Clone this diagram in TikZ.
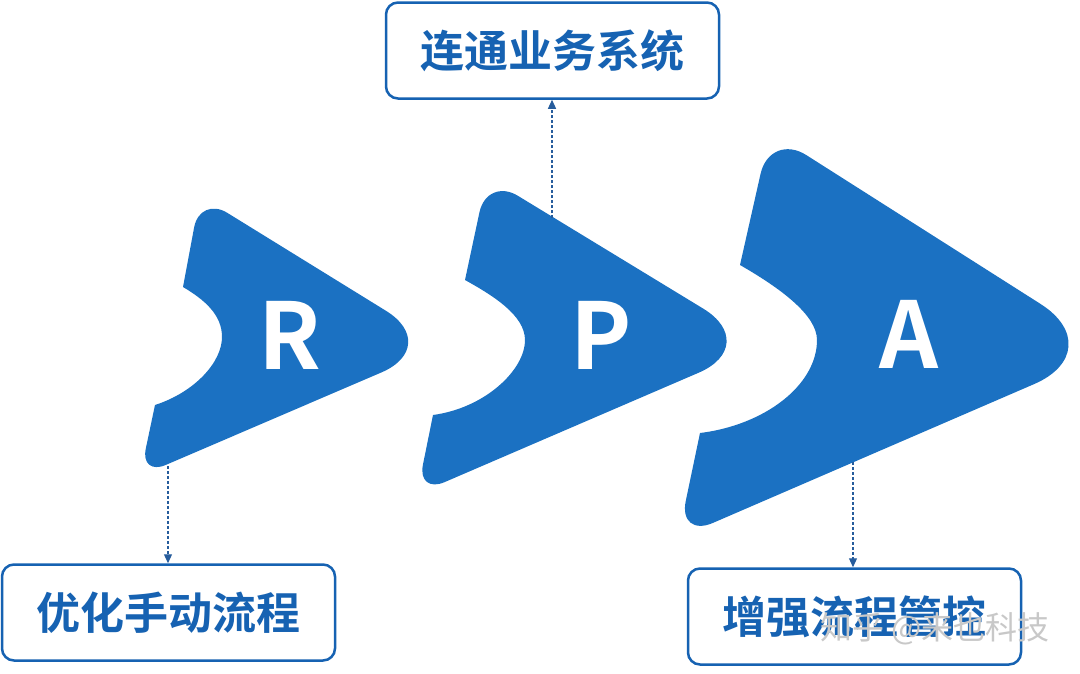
\documentclass[tikz,border=0pt]{standalone}
\usepackage{fontspec}
\usetikzlibrary{calc,arrows.meta}
\newfontfamily\cjk{Noto Sans CJK SC}[BoldFont={Noto Sans CJK SC Bold}]
\definecolor{shapeblue}{RGB}{27,113,194}
\definecolor{textblue}{RGB}{22,98,178}
\definecolor{arrowblue}{RGB}{38,92,156}
\definecolor{wmgray}{RGB}{200,200,200}
% rounded corner: from edge toward #1, around vertex #2, to edge toward #3, cut #4
\newcommand\rc[4]{($(#2)!#4!(#1)$) .. controls ($(#2)!0.45*#4!(#1)$) and ($(#2)!0.45*#4!(#3)$) .. ($(#2)!#4!(#3)$)}
\tikzset{
  shapefill/.style={fill=shapeblue},
  letter/.style={text=white, font=\cjk\bfseries\fontsize{92}{92}\selectfont, inner sep=0pt},
  labelbox/.style={draw=textblue, line width=2.5pt, rounded corners=12pt, fill=white,
    minimum width=333pt, minimum height=96pt, inner sep=0pt,
    text=textblue, font=\cjk\bfseries\fontsize{44}{44}\selectfont},
  link/.style={draw=arrowblue, line width=1.2pt, dash pattern=on 3pt off 2pt,
    -{Triangle[length=9pt,width=8pt]}},
  watermark/.style={text=wmgray, font=\cjk\fontsize{32}{32}\selectfont, inner sep=0pt}
}
\begin{document}
\begin{tikzpicture}[x=1pt,y=-1pt]
\useasboundingbox (0,0) rectangle (1080,673);

% ---------- R shape ----------
\coordinate (R1) at (200,196);
\coordinate (RL1) at (183,287);
\coordinate (RL2) at (155,405);
\coordinate (R4) at (140,476);
\coordinate (R5) at (443,346);
\fill[shapefill] ($(R1)!32pt!(RL1)$) -- (RL1)
  .. controls (205,300) and (222,315) .. (222,337)
  .. controls (222,362) and (195,392) .. (RL2)
  -- \rc{RL2}{R4}{R5}{28pt} -- \rc{R4}{R5}{R1}{67pt} -- \rc{R5}{R1}{RL1}{32pt} -- cycle;

% ---------- P shape ----------
\coordinate (P1) at (487,177);
\coordinate (PL1) at (465,280);
\coordinate (PL2) at (433,415);
\coordinate (P4) at (417,494);
\coordinate (P5) at (763,345);
\fill[shapefill] ($(P1)!36pt!(PL1)$) -- (PL1)
  .. controls (492,295) and (525,315) .. (525,340)
  .. controls (525,370) and (485,408) .. (PL2)
  -- \rc{PL2}{P4}{P5}{30pt} -- \rc{P4}{P5}{P1}{70pt} -- \rc{P5}{P1}{PL1}{36pt} -- cycle;

% ---------- A shape ----------
\coordinate (A1) at (770,132);
\coordinate (AL1) at (740,265);
\coordinate (AL2) at (700,433);
\coordinate (A4) at (678,538);
\coordinate (A5) at (1113,350);
\fill[shapefill] ($(A1)!43pt!(AL1)$) -- (AL1)
  .. controls (780,288) and (817,315) .. (817,340)
  .. controls (817,385) and (765,425) .. (AL2)
  -- \rc{AL2}{A4}{A5}{38pt} -- \rc{A4}{A5}{A1}{86pt} -- \rc{A5}{A1}{AL1}{43pt} -- cycle;

% ---------- letters ----------
\node[letter] (lR) at (290,335) {R};
\node[letter] (lP) at (601,335) {P};
\node[letter] (lA) at (909,334) {A};

% ---------- label boxes ----------
\node[labelbox] (btop) at (552.5,50.5) {连通业务系统};
\node[labelbox] (bleft) at (168.5,612.5) {优化手动流程};
\node[labelbox] (bright) at (854.5,616.5) {增强流程管控};

% ---------- connectors ----------
\coordinate (Rout) at (168,466);
\coordinate (Pout) at (552,218);
\coordinate (Aout) at (853,462);
\draw[link] (Rout) -- (Rout |- bleft.north);
\draw[link] (Pout) -- (Pout |- btop.south);
\draw[link] (Aout) -- (Aout |- bright.north);

% ---------- watermark ----------
\node[watermark, anchor=west] (wm) at (820,629) {知乎 @来也科技};
\end{tikzpicture}
\end{document}
